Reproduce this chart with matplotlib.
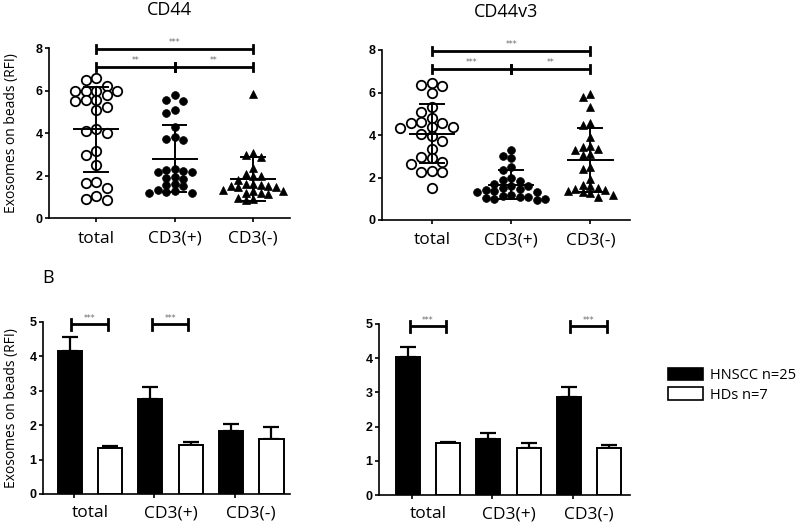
import numpy as np
import matplotlib
matplotlib.use("Agg")
import matplotlib.pyplot as plt
from matplotlib.patches import Patch

plt.rcParams["font.family"] = ["Open Sans", "DejaVu Sans"]

GROUPS = ["total", "CD3(+)", "CD3(-)"]

# ---- panel A: individual patients (HNSCC, n=25) -----------------------
cd44_total = [6.5, 6.6, 6.0, 6.0, 6.0, 6.0, 6.23, 5.77, 5.54, 5.57, 5.49, 5.07, 5.22,
              4.08, 4.0, 4.19, 2.98, 3.14, 2.48, 1.65, 1.68, 1.41, 0.86, 1.05, 0.91]
cd44_cd3pos = [5.78, 5.55, 5.5, 5.1, 4.95, 4.3, 3.8, 3.72, 3.65, 2.3, 2.28, 2.2, 2.18,
               2.15, 1.95, 1.9, 1.85, 1.6, 1.55, 1.5, 1.3, 1.25, 1.22, 1.2, 1.18]
cd44_cd3neg = [5.83, 3.05, 2.95, 2.85, 2.35, 2.05, 2.0, 1.98, 1.8, 1.6, 1.58, 1.55, 1.52,
               1.5, 1.48, 1.45, 1.3, 1.28, 1.25, 1.2, 1.18, 1.15, 0.95, 0.9, 0.85]

v3_total = [6.32, 6.35, 6.45, 5.98, 5.3, 5.1, 4.8, 4.6, 4.55, 4.55, 4.38, 4.35, 4.38,
            4.05, 3.95, 3.7, 3.35, 2.95, 2.92, 2.75, 2.65, 2.3, 2.25, 2.25, 1.5]
v3_cd3pos = [3.28, 3.0, 2.92, 2.5, 2.35, 2.0, 1.9, 1.85, 1.6, 1.7, 1.6, 1.5, 1.45,
             1.4, 1.35, 1.3, 1.3, 1.2, 1.15, 1.1, 1.1, 1.05, 1.0, 0.98, 0.95]
v3_cd3neg = [5.93, 5.8, 5.3, 4.55, 4.45, 3.9, 3.5, 3.45, 3.35, 3.3, 3.1, 3.05, 2.5,
             2.4, 1.95, 1.65, 1.6, 1.5, 1.45, 1.4, 1.38, 1.3, 1.25, 1.2, 1.08]

sig_cd44 = [(0, 2, "***"), (0, 1, "**"), (1, 2, "**")]
sig_v3 = [(0, 2, "***"), (0, 1, "***"), (1, 2, "**")]

# ---- panel B: mean + SEM, HNSCC vs HDs --------------------------------
cd44_hnscc = [4.15, 2.76, 1.83]
cd44_hnscc_err = [0.42, 0.34, 0.21]
cd44_hd = [1.33, 1.43, 1.59]
cd44_hd_err = [0.07, 0.09, 0.37]

v3_hnscc = [4.04, 1.65, 2.86]
v3_hnscc_err = [0.28, 0.15, 0.31]
v3_hd = [1.51, 1.38, 1.36]
v3_hd_err = [0.05, 0.15, 0.10]

sig_bar_cd44 = [(0, "***"), (1, "***")]
sig_bar_v3 = [(0, "***"), (2, "***")]

LEGEND = ["HNSCC n=25", "HDs n=7"]

W, H = 800, 523
fig = plt.figure(figsize=(W / 100, H / 100), dpi=100)

# marker styles for total / CD3(+) / CD3(-); step and vgap are in pixels
MARKERS = [dict(marker="o", ms=6.8, mfc="white", mec="black", mew=1.3, step=10.5, vgap=8.5),
           dict(marker="o", ms=5.6, mfc="black", mec="black", mew=0.5, step=8.5, vgap=7),
           dict(marker="^", ms=6.0, mfc="black", mec="black", mew=0.5, step=7.5, vgap=7)]


def style_axes(ax, ymax, step):
    for s in ("top", "right"):
        ax.spines[s].set_visible(False)
    for s in ("left", "bottom"):
        ax.spines[s].set_linewidth(1.2)
    ax.set_ylim(0, ymax)
    ax.set_yticks(np.arange(0, ymax + 0.01, step))
    ax.tick_params(axis="y", length=3, width=1.2, pad=1.5)
    for t in ax.get_yticklabels():
        t.set_fontfamily("Liberation Sans")
        t.set_fontweight("bold")
        t.set_fontsize(9)


def swarm(vals, ax, step_px, vgap_px):
    """spread points sideways in columns so markers don't overlap"""
    bb = ax.get_position()
    x0, x1 = ax.get_xlim()
    px_x = bb.width * W / (x1 - x0)
    px_y = bb.height * H / (ax.get_ylim()[1] - ax.get_ylim()[0])
    step = step_px / px_x
    order = np.argsort(vals)[::-1]
    placed, offs = [], np.zeros(len(vals))
    for i in order:
        for k in [0, -1, 1, -2, 2, -3, 3, -4, 4, -5, 5]:
            x = k * step
            if all(not (abs(x - px) < step * 0.5 and abs(vals[i] - py) * px_y < vgap_px)
                   for px, py in placed):
                break
        placed.append((x, vals[i]))
        offs[i] = x
    return offs


def scatter_panel(ax, series, sigs, title, xlim):
    ax.set_xlim(*xlim)
    style_axes(ax, 8, 2)
    for i, (vals, m) in enumerate(zip(series, MARKERS)):
        vals = np.asarray(vals)
        offs = swarm(vals, ax, m["step"], m["vgap"])
        ax.plot(i + offs, vals, ls="none", marker=m["marker"], ms=m["ms"],
                mfc=m["mfc"], mec=m["mec"], mew=m["mew"], zorder=2)
        mu, sd = vals.mean(), vals.std(ddof=1)
        ax.plot([i - 0.28, i + 0.28], [mu, mu], color="black", lw=1.4, zorder=3)
        ax.plot([i, i], [mu - sd, mu + sd], color="black", lw=1.4, zorder=3)
        for y in (mu - sd, mu + sd):
            ax.plot([i - 0.15, i + 0.15], [y, y], color="black", lw=1.4, zorder=3)
    levels = [7.95, 7.1, 7.1]
    for (a, b, stars), y in zip(sigs, levels):
        ax.plot([a, b], [y, y], color="black", lw=2, solid_capstyle="butt", clip_on=False)
        for x in (a, b):
            ax.plot([x, x], [y - 0.18, y + 0.18], color="black", lw=2, clip_on=False)
        ax.text((a + b) / 2, y + 0.08, stars, ha="center", va="bottom",
                fontsize=5.5, color="#666666", family="DejaVu Sans")
    ax.set_xticks(range(len(GROUPS)))
    ax.set_xticklabels(GROUPS, fontsize=12.5)
    ax.tick_params(axis="x", length=3, width=1.2, pad=6)
    ax.text(0.5, 1 + 38 / 170, title, transform=ax.transAxes, ha="center",
            va="center", fontsize=13)


def bar_panel(ax, hn, hn_err, hd, hd_err, sigs, xlim):
    ax.set_xlim(*xlim)
    style_axes(ax, 5, 1)
    x = np.arange(len(GROUPS))
    off, w = 0.25, 0.3
    ax.bar(x - off, hn, w, color="black", edgecolor="black", lw=1.4, zorder=2)
    ax.bar(x + off, hd, w, color="white", edgecolor="black", lw=1.4, zorder=2)
    ax.errorbar(x - off, hn, yerr=[np.zeros(len(hn)), hn_err], fmt="none",
                ecolor="black", elinewidth=1.6, capsize=6, capthick=1.6, zorder=1)
    ax.errorbar(x + off, hd, yerr=[np.zeros(len(hd)), hd_err], fmt="none",
                ecolor="black", elinewidth=1.6, capsize=6, capthick=1.6, zorder=1)
    y = 4.93
    for g, stars in sigs:
        a, b = g - 0.23, g + 0.22
        ax.plot([a, b], [y, y], color="black", lw=2, solid_capstyle="butt", clip_on=False)
        for xx in (a, b):
            ax.plot([xx, xx], [y - 0.17, y + 0.17], color="black", lw=2, clip_on=False)
        ax.text((a + b) / 2, y + 0.04, stars, ha="center", va="bottom",
                fontsize=5.5, color="#666666", family="DejaVu Sans")
    ax.set_xticks(x)
    ax.set_xticklabels(GROUPS, fontsize=12.5)
    ax.tick_params(axis="x", which="major", length=0, pad=8)
    ax.set_xticks(x - 0.2, minor=True)
    ax.tick_params(axis="x", which="minor", length=3, width=1.2)


ax1 = fig.add_axes([49 / W, 1 - 218 / H, 241 / W, 170 / H])
ax2 = fig.add_axes([382 / W, 1 - 220 / H, 248 / W, 170 / H])
ax3 = fig.add_axes([43 / W, 1 - 494 / H, 247 / W, 172 / H])
ax4 = fig.add_axes([379 / W, 1 - 495 / H, 251 / W, 171 / H])

scatter_panel(ax1, [cd44_total, cd44_cd3pos, cd44_cd3neg], sig_cd44, "CD44", (-0.6, 2.47))
scatter_panel(ax2, [v3_total, v3_cd3pos, v3_cd3neg], sig_v3, "CD44v3", (-0.63, 2.5))

bar_panel(ax3, cd44_hnscc, cd44_hnscc_err, cd44_hd, cd44_hd_err, sig_bar_cd44, (-0.58, 2.48))
bar_panel(ax4, v3_hnscc, v3_hnscc_err, v3_hd, v3_hd_err, sig_bar_v3, (-0.61, 2.51))

ylab = "Exosomes on beads (RFI)"
ax1.set_ylabel(ylab, fontsize=10)
ax1.yaxis.set_label_coords(-30 / 241, 0.5)
ax3.set_ylabel(ylab, fontsize=10)
ax3.yaxis.set_label_coords(-24 / 247, 0.5)

fig.text(48 / W, 1 - 278 / H, "B", fontsize=13, ha="center", va="center")

handles = [Patch(facecolor="black", edgecolor="black", lw=1.2),
           Patch(facecolor="white", edgecolor="black", lw=1.2)]
fig.legend(handles, LEGEND, loc="upper left", bbox_to_anchor=(668 / W, 1 - 368 / H),
           frameon=False, fontsize=10.5, handlelength=2.4, handleheight=0.9,
           handletextpad=0.45, labelspacing=0.3, borderpad=0, borderaxespad=0)

fig.savefig("out.png", dpi=100)
